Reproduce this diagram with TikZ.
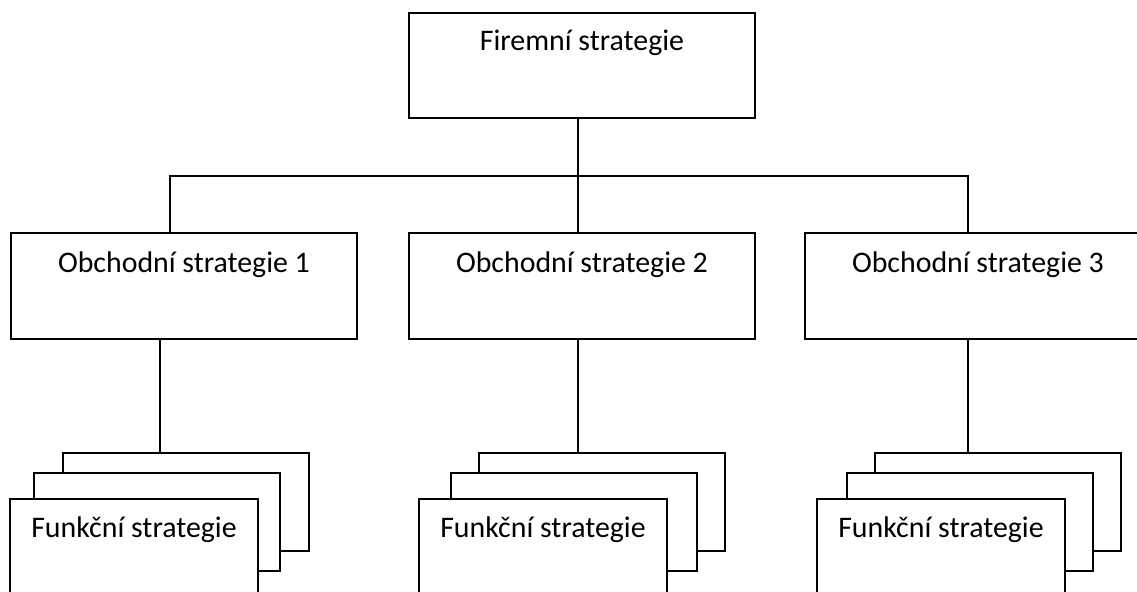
\documentclass[tikz,border=0pt]{standalone}
\usepackage{fontspec}
\setmainfont{Carlito}
\usetikzlibrary{positioning}

\begin{document}
\begin{tikzpicture}[x=0.02cm, y=-0.02cm, line width=0.04cm,
  every node/.style={font=\fontsize{17}{20}\selectfont},
  box/.style={draw, fill=white, inner sep=0pt, anchor=north west},
  upper/.style={box, minimum width=6.92cm, text height=0.8cm, text depth=1.32cm},
  sheet/.style={box, minimum width=4.92cm, minimum height=1.96cm},
  func/.style={box, minimum width=4.96cm, text height=0.78cm, text depth=1.26cm}]
  \useasboundingbox (0,0) rectangle (1137,592);
  \node[upper, text height=0.76cm, text depth=1.34cm] (firm) at (408,12) {Firemní strategie};
  \node[upper] (obch1) at (10,232) {Obchodní strategie 1};
  \node[upper] (obch2) at (408,232) {Obchodní strategie 2};
  \node[upper] (obch3) at (804,232) {Obchodní strategie 3};
  \coordinate (bus) at (578,176);
  \coordinate (busL) at (170,176);
  \coordinate (busR) at (968,176);
  \draw (firm.south -| bus) -- (bus |- obch2.north);
  \draw (busL |- obch1.north) |- (busR) -- (busR |- obch3.north);
  % stacks of functional strategies
  \node[sheet] (back1) at (62,452) {};
  \node[sheet] (mid1) at (33,472) {};
  \node[func] (func1) at (9,498) {Funkční strategie};
  \node[sheet] (back2) at (478,452) {};
  \node[sheet] (mid2) at (450,472) {};
  \node[func] (func2) at (418,498) {Funkční strategie};
  \node[sheet] (back3) at (874,452) {};
  \node[sheet] (mid3) at (846,472) {};
  \node[func] (func3) at (816,498) {Funkční strategie};
  \coordinate (drop1) at (160,0);
  \coordinate (drop2) at (578,0);
  \coordinate (drop3) at (968,0);
  \draw (obch1.south -| drop1) -- (back1.north -| drop1);
  \draw (obch2.south -| drop2) -- (back2.north -| drop2);
  \draw (obch3.south -| drop3) -- (back3.north -| drop3);
\end{tikzpicture}
\end{document}
